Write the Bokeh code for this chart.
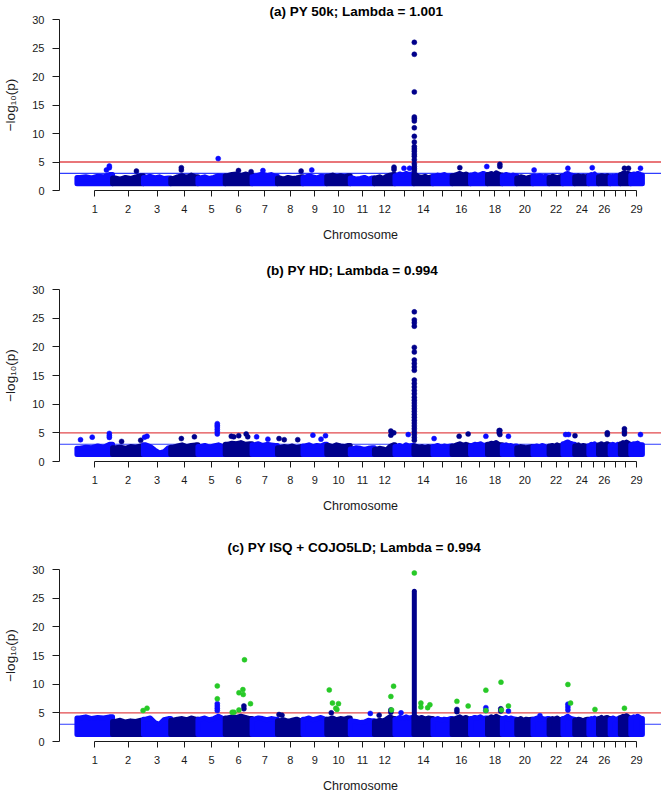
from bokeh.plotting import figure
from bokeh.layouts import column
from bokeh.models import Range1d, FixedTicker, Span, CustomJSTickFormatter
from bokeh.embed import file_html
from bokeh.resources import INLINE

# ---------------- data ----------------
CHROM_LEN_MB = [158.3, 137.1, 121.4, 120.7, 121.2, 119.5, 112.6, 113.4, 105.7,
                104.3, 107.3, 91.2, 84.2, 84.6, 85.3, 81.7, 75.2, 66.0, 64.1,
                72.0, 71.6, 61.4, 52.5, 62.7, 42.9, 51.7, 45.4, 46.3, 51.5]
TICK_LABELS = ["1", "2", "3", "4", "5", "6", "7", "8", "9", "10", "11", "12",
               "", "14", "", "16", "", "18", "", "20", "", "22", "", "24", "",
               "26", "", "", "29"]
Y_TICKS = [0, 5, 10, 15, 20, 25, 30]
GENOMEWIDE = 5.0
SUGGESTIVE = 3.0
BASE_LOGP = 1.2          # lowest -log10(p) plotted

TITLES = ["(a) PY 50k; Lambda = 1.001", "(b) PY HD; Lambda = 0.994",
          "(c) PY ISQ + COJO5LD; Lambda = 0.994"]

# upper edge of the dense SNP cloud, six estimates per chromosome
BAND_A = [[2.3, 2.4, 2.2, 2.5, 2.4, 2.8], [2.2, 2.0, 2.3, 2.1, 2.4, 2.6],
          [2.3, 2.5, 2.2, 2.4, 2.1, 2.2], [2.1, 2.4, 2.6, 2.3, 2.7, 2.4],
          [2.2, 2.4, 2.1, 2.3, 2.6, 2.5], [2.6, 2.8, 2.9, 2.6, 2.9, 2.7],
          [2.5, 2.7, 2.9, 2.6, 2.8, 2.5], [2.2, 2.0, 2.3, 2.1, 2.2, 2.4],
          [2.3, 2.6, 2.4, 2.2, 2.5, 2.4], [2.5, 2.7, 2.4, 2.6, 2.4, 2.6],
          [2.2, 2.0, 2.1, 2.3, 2.0, 2.2], [2.2, 2.4, 2.1, 2.5, 2.7, 2.8],
          [2.6, 2.9, 2.7, 3.0, 2.8, 2.9], [2.8, 2.4, 2.3, 2.5, 2.2, 2.4],
          [2.5, 2.7, 2.6, 2.8, 2.5, 2.6], [2.6, 2.8, 3.0, 2.7, 2.9, 2.6],
          [2.7, 2.9, 2.6, 2.8, 3.0, 2.8], [2.8, 3.0, 2.7, 3.1, 2.9, 2.7],
          [2.6, 2.8, 2.7, 2.5, 2.7, 2.6], [2.2, 2.4, 2.3, 2.1, 2.3, 2.4],
          [2.5, 2.4, 2.6, 2.3, 2.5, 2.4], [2.3, 2.5, 2.4, 2.2, 2.4, 2.5],
          [2.6, 2.9, 3.0, 2.8, 2.7, 2.6], [2.4, 2.6, 2.3, 2.5, 2.4, 2.5],
          [2.6, 2.8, 2.7, 2.9, 2.6, 2.5], [2.4, 2.6, 2.5, 2.3, 2.6, 2.4],
          [2.4, 2.5, 2.3, 2.6, 2.5, 2.4], [2.8, 3.0, 3.1, 2.9, 3.0, 2.8],
          [2.7, 2.9, 2.8, 3.0, 2.9, 2.7]]
BAND_B = [[2.3, 2.5, 2.4, 2.7, 2.5, 3.0], [2.4, 2.5, 2.3, 2.6, 2.5, 2.7],
          [2.9, 2.6, 2.0, 1.5, 1.7, 2.4], [2.5, 2.7, 2.9, 2.6, 2.8, 2.9],
          [2.6, 2.8, 2.5, 2.7, 2.9, 2.6], [3.0, 3.2, 3.1, 3.3, 3.0, 3.1],
          [2.9, 3.1, 2.8, 3.0, 2.9, 2.8], [2.4, 2.6, 2.5, 2.7, 2.4, 2.6],
          [2.7, 2.9, 2.6, 2.8, 2.7, 3.0], [2.8, 2.6, 2.9, 2.7, 2.6, 2.8],
          [2.2, 2.4, 2.3, 2.1, 2.3, 2.4], [2.1, 2.3, 2.2, 2.0, 2.6, 2.9],
          [2.6, 2.8, 2.5, 2.9, 2.7, 2.8], [2.7, 2.5, 2.6, 2.4, 2.6, 2.5],
          [2.6, 2.8, 2.5, 2.7, 2.6, 2.7], [2.7, 2.9, 3.1, 2.8, 3.0, 2.8],
          [2.8, 3.0, 2.9, 3.1, 2.8, 2.9], [3.0, 3.2, 3.1, 3.3, 3.0, 2.9],
          [2.8, 2.9, 2.7, 2.8, 2.6, 2.7], [2.4, 2.6, 2.5, 2.3, 2.5, 2.6],
          [2.6, 2.7, 2.5, 2.8, 2.6, 2.5], [2.7, 2.8, 2.6, 2.9, 2.7, 2.8],
          [3.1, 3.3, 3.4, 3.2, 3.1, 3.0], [2.7, 2.9, 2.6, 2.8, 2.7, 2.6],
          [2.8, 3.0, 2.9, 3.1, 2.8, 2.7], [2.9, 3.1, 2.8, 3.0, 3.1, 2.9],
          [2.8, 3.0, 2.9, 2.7, 3.0, 2.8], [3.1, 3.3, 3.2, 3.4, 3.2, 3.0],
          [2.9, 3.1, 3.0, 3.2, 3.0, 2.9]]
BAND_C = [[4.1, 4.3, 4.0, 4.2, 4.1, 4.3], [3.5, 3.7, 3.4, 3.6, 3.5, 3.7],
          [3.9, 4.1, 3.3, 3.0, 3.8, 4.0], [3.7, 3.9, 4.0, 3.8, 4.1, 3.9],
          [3.9, 4.1, 3.8, 4.0, 4.4, 4.0], [4.1, 4.3, 4.2, 4.4, 4.2, 4.0],
          [3.9, 4.1, 4.0, 3.8, 4.0, 3.9], [3.6, 3.8, 3.5, 3.7, 3.9, 3.6],
          [3.9, 4.1, 3.8, 4.0, 4.2, 3.9], [3.9, 4.1, 3.8, 4.0, 3.9, 4.1],
          [3.6, 3.5, 3.3, 3.4, 3.7, 3.6], [3.5, 3.7, 3.6, 3.9, 4.3, 4.0],
          [3.9, 4.2, 4.0, 4.3, 4.1, 4.2], [4.3, 4.0, 4.2, 3.9, 4.1, 4.0],
          [3.8, 4.0, 3.7, 3.9, 3.8, 4.0], [3.9, 4.1, 4.3, 4.0, 4.2, 3.9],
          [4.0, 4.2, 4.1, 4.3, 4.0, 4.1], [4.0, 4.3, 4.1, 4.4, 4.2, 4.0],
          [4.0, 4.2, 3.9, 4.1, 4.0, 3.9], [3.8, 4.0, 3.7, 3.9, 3.8, 3.9],
          [3.9, 4.1, 3.8, 4.0, 3.9, 4.0], [3.8, 4.0, 3.9, 4.1, 3.8, 3.9],
          [4.0, 4.2, 4.4, 4.1, 4.0, 3.9], [3.7, 3.9, 3.8, 3.6, 3.8, 3.9],
          [3.8, 4.0, 3.9, 4.1, 3.8, 3.7], [4.0, 4.2, 3.9, 4.1, 4.2, 4.0],
          [3.9, 4.1, 4.0, 3.8, 4.0, 4.1], [4.2, 4.4, 4.3, 4.5, 4.3, 4.1],
          [4.1, 4.3, 4.2, 4.4, 4.2, 4.0]]

# individual SNPs standing above the cloud: chromosome, position (Mb), -log10(p)
PEAK_A_CHR = [1, 1, 1, 2, 4, 4, 5, 6, 6, 7, 8, 9, 12, 12, 13, 13, 16, 17, 18,
              18, 21, 23, 25, 28, 28, 29]
PEAK_A_POS = [144, 144, 131, 106, 47, 47, 90, 59, 115, 48, 105, 39, 87, 87,
              40, 65, 34, 72, 55, 55, 5, 22, 15, 18, 36, 43]
PEAK_A_Y = [4.3, 4.0, 3.6, 3.4, 4.0, 3.6, 5.6, 3.5, 3.3, 3.5, 3.4, 3.6, 4.1,
            3.7, 3.9, 3.9, 4.0, 4.2, 4.6, 4.2, 3.6, 3.9, 4.0, 3.9, 3.9, 3.9]

PEAK_B_CHR = [1, 1, 1, 1, 1, 2, 2, 3, 3, 4, 4, 5, 5, 5, 5, 5, 5, 6, 6, 6, 6,
              6, 7, 7, 8, 8, 8, 9, 9, 9, 12, 12, 12, 13, 15, 16, 16, 17, 18,
              18, 18, 18, 19, 23, 23, 24, 26, 26, 28, 28, 28, 29]
PEAK_B_POS = [16, 68, 144, 144, 144, 40, 125, 5, 16, 47, 105, 86, 86, 86, 86,
              86, 86, 27, 38, 60, 93, 100, 20, 70, 7, 30, 90, 44, 80, 100, 73,
              86, 73, 59, 5, 31, 71, 68, 52, 55, 52, 55, 27, 12, 25, 1, 39, 39,
              18, 18, 18, 43]
PEAK_B_Y = [3.8, 4.25, 4.9, 4.5, 4.2, 3.5, 3.7, 4.25, 4.4, 4.0, 4.3, 6.6, 6.3,
            6.0, 5.6, 5.2, 4.8, 4.4, 4.3, 4.5, 4.8, 4.3, 4.3, 3.9, 4.0, 3.8,
            3.8, 4.6, 3.9, 4.5, 5.3, 5.0, 4.6, 4.7, 4.0, 4.4, 4.8, 4.4, 5.4,
            5.4, 5.0, 4.7, 4.4, 4.7, 4.7, 4.5, 5.0, 4.7, 5.7, 5.2, 4.8, 4.7]

PEAK_C_CHR = [5, 5, 5, 5, 6, 6, 8, 8, 10, 11, 12, 12, 12, 13, 16, 16, 17, 17,
              18, 18, 19, 21, 23, 23, 23]
PEAK_C_POS = [86, 86, 86, 86, 83, 83, 7, 20, 20, 89, 21, 73, 73, 27, 21, 21,
              68, 68, 59, 59, 27, 31, 22, 22, 22]
PEAK_C_Y = [6.6, 6.2, 5.8, 5.4, 6.2, 5.7, 4.7, 4.6, 5.0, 4.9, 4.6, 5.5, 5.1,
            5.0, 5.6, 5.2, 5.9, 5.4, 5.7, 5.3, 5.3, 4.5, 6.5, 6.0, 5.5]

# lead locus on BTA14 (DGAT1 region)
LEAD_CHR = 14
LEAD_POS_MB = 1.8
STACK_A_Y = [26.0, 23.9, 17.3, 12.9, 12.6, 12.2, 11.0, 9.5, 8.5, 7.7, 7.3,
             6.9, 6.4, 6.0, 5.4, 4.7, 4.2, 3.8, 3.4]
STACK_B_Y = [26.1, 24.7, 24.2, 23.6, 19.9, 19.1, 17.7, 17.1, 16.5, 15.9, 14.2,
             13.6, 13.0, 12.4, 11.8, 11.2, 10.7, 10.2, 9.7, 9.2, 8.7, 8.2, 7.7,
             7.2, 6.7, 6.2, 5.7, 5.2, 4.7, 4.2, 3.7]
STACK_C_RANGE = [4.0, 26.2]   # continuous column of SNPs in panel (c)

# conditional (COJO) hits, panel (c)
GREEN_C_CHR = [2, 3, 5, 5, 6, 6, 6, 6, 6, 6, 6, 6, 10, 10, 10, 10, 10, 12, 12,
               12, 14, 14, 14, 14, 14, 16, 16, 17, 17, 18, 18, 19, 23, 23, 25,
               28]
GREEN_C_POS = [135.5, 16, 86, 86, 31, 39, 61, 61, 78.5, 80, 85.6, 112.3, 11,
               25, 40, 45, 52, 73, 85, 76, 1.8, 31, 31, 61, 71, 21, 71, 68, 68,
               60, 62, 27, 22, 34, 27, 18]
GREEN_C_Y = [5.4, 5.8, 9.7, 7.45, 5.1, 5.1, 8.5, 5.5, 9.05, 8.2, 14.25, 6.6,
             9.0, 6.7, 5.8, 5.6, 6.6, 7.85, 9.65, 5.5, 29.4, 6.7, 6.0, 5.9,
             6.4, 7.0, 6.2, 8.95, 5.4, 10.35, 5.5, 6.2, 9.95, 6.7, 5.6, 5.8]

# ---------------- style / layout ----------------
FONT = "Liberation Sans"
BLUE = "#0b0bff"
NAVY = "#00008b"
GREEN = "#27c927"
RED_LINE = "#e2484c"
BLUE_LINE = "#2f3dff"
AXIS_COL = "#1a1a1a"

W = 661
FRAME_LEFT = 58
PX_PER_MB = 0.2255
X0 = -77.4
X1 = X0 + (W - FRAME_LEFT) / PX_PER_MB

starts = []
acc = 0.0
for L in CHROM_LEN_MB:
    starts.append(acc)
    acc += L
centers = [round(s + L / 2.0, 1) for s, L in zip(starts, CHROM_LEN_MB)]


def chrom_color(c):
    return BLUE if c % 2 == 1 else NAVY


def panel(k, band, pk_chr, pk_pos, pk_y, height, top, bottom, title_standoff,
          title_left):
    p = figure(width=W, height=height, x_range=Range1d(X0, X1),
               y_range=Range1d(0, 30), output_backend="svg",
               toolbar_location=None, min_border_left=FRAME_LEFT,
               min_border_right=0, min_border_top=top,
               min_border_bottom=bottom, title=TITLES[k])
    p.title.text_font = FONT
    p.title.text_font_size = "13.5px"
    p.title.text_font_style = "bold"
    p.title.text_color = "black"
    p.title.align = "left"
    p.title.offset = title_left
    p.title.standoff = title_standoff
    p.xgrid.visible = False
    p.ygrid.visible = False
    p.outline_line_color = None

    p.add_layout(Span(location=GENOMEWIDE, dimension="width",
                      line_color=RED_LINE, line_width=1.4, level="underlay"))
    p.add_layout(Span(location=SUGGESTIVE, dimension="width",
                      line_color=BLUE_LINE, line_width=1.1, level="underlay"))

    xs, ys, cols = [], [], []
    for i, L in enumerate(CHROM_LEN_MB):
        s = starts[i]
        v = band[i]
        n = len(v)
        px = [s] + [s + L * (j + 0.5) / n for j in range(n)] + [s + L, s + L, s]
        py = [v[0]] + list(v) + [v[-1], BASE_LOGP, BASE_LOGP]
        xs.append(px)
        ys.append(py)
        cols.append(chrom_color(i + 1))
    p.patches(xs, ys, fill_color=cols, line_color=cols, line_width=5,
              line_join="round")

    px_ = [starts[c - 1] + pos for c, pos in zip(pk_chr, pk_pos)]
    pc_ = [chrom_color(c) for c in pk_chr]
    p.scatter(px_, pk_y, size=5, fill_color=pc_, line_color=pc_,
              line_width=0.5)

    lead_x = starts[LEAD_CHR - 1] + LEAD_POS_MB
    if k == 0:
        p.scatter([lead_x] * len(STACK_A_Y), STACK_A_Y, size=5,
                  fill_color=NAVY, line_color=NAVY, line_width=0.5)
    elif k == 1:
        p.scatter([lead_x] * len(STACK_B_Y), STACK_B_Y, size=5,
                  fill_color=NAVY, line_color=NAVY, line_width=0.5)
    else:
        p.segment([lead_x], [STACK_C_RANGE[0]], [lead_x], [STACK_C_RANGE[1]],
                  line_color=NAVY, line_width=5, line_cap="round")
        gx = [starts[c - 1] + pos for c, pos in zip(GREEN_C_CHR, GREEN_C_POS)]
        p.scatter(gx, GREEN_C_Y, size=5, fill_color=GREEN, line_color=GREEN,
                  line_width=0.5)

    ya = p.yaxis[0]
    ya.ticker = FixedTicker(ticks=Y_TICKS)
    ya.major_tick_out = 7
    ya.major_tick_in = 0
    ya.minor_tick_line_color = None
    ya.major_label_standoff = 8
    ya.major_label_text_font = FONT
    ya.major_label_text_font_size = "11px"
    ya.major_label_text_color = AXIS_COL
    ya.axis_line_color = AXIS_COL
    ya.major_tick_line_color = AXIS_COL
    ya.axis_label = "\u2212log\u2081\u2080(p)"
    ya.axis_label_text_font = FONT
    ya.axis_label_text_font_size = "13.5px"
    ya.axis_label_text_font_style = "normal"
    ya.axis_label_text_color = AXIS_COL
    ya.axis_label_standoff = 11

    xa = p.xaxis[0]
    xa.ticker = FixedTicker(ticks=centers)
    xa.bounds = (centers[0], centers[-1])
    xa.formatter = CustomJSTickFormatter(args=dict(labels=TICK_LABELS),
                                         code="return labels[index];")
    xa.major_tick_out = 6
    xa.major_tick_in = 0
    xa.minor_tick_line_color = None
    xa.major_label_standoff = 8
    xa.major_label_text_font = FONT
    xa.major_label_text_font_size = "11px"
    xa.major_label_text_color = AXIS_COL
    xa.axis_line_color = AXIS_COL
    xa.major_tick_line_color = AXIS_COL
    xa.axis_label = "Chromosome"
    xa.axis_label_text_font = FONT
    xa.axis_label_text_font_size = "12.5px"
    xa.axis_label_text_font_style = "normal"
    xa.axis_label_text_color = AXIS_COL
    xa.axis_label_standoff = 12
    return p


pa = panel(0, BAND_A, PEAK_A_CHR, PEAK_A_POS, PEAK_A_Y, 247, 19, 57, 1, 210)
pb = panel(1, BAND_B, PEAK_B_CHR, PEAK_B_POS, PEAK_B_Y, 275, 42, 61, 24, 207)
pc = panel(2, BAND_C, PEAK_C_CHR, PEAK_C_POS, PEAK_C_Y, 273, 47, 54, 29, 168)

layout = column(pa, pb, pc, spacing=0)
open("out.html", "w").write(file_html(layout, INLINE))
